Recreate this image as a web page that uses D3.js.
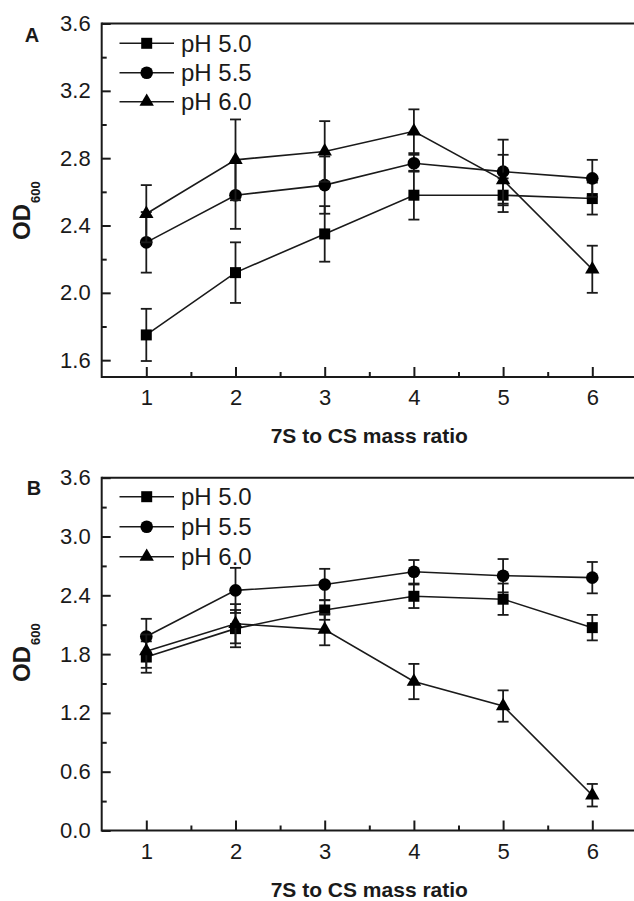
<!DOCTYPE html>
<html>
<head>
<meta charset="utf-8">
<script src="https://cdn.jsdelivr.net/npm/d3@7"></script>
<style>
  html, body { margin: 0; padding: 0; background: #fff; }
  svg { display: block; }
  text { font-family: "Liberation Sans", Arial, sans-serif; fill: #1a1a1a; }
</style>
</head>
<body>
<svg id="chart" width="634" height="901"></svg>
<script>
// ---------- data ----------
const ratios = [1, 2, 3, 4, 5, 6];
const seriesNames = ["pH 5.0", "pH 5.5", "pH 6.0"];
const seriesSymbols = ["square", "circle", "triangle"];

// Panel A
const aPH50 = [1.75, 2.12, 2.35, 2.58, 2.58, 2.56];
const aPH50Err = [0.155, 0.18, 0.165, 0.145, 0.10, 0.095];
const aPH55 = [2.30, 2.58, 2.64, 2.77, 2.72, 2.68];
const aPH55Err = [0.18, 0.20, 0.17, 0.05, 0.19, 0.11];
const aPH60 = [2.47, 2.79, 2.84, 2.96, 2.67, 2.14];
const aPH60Err = [0.17, 0.24, 0.18, 0.13, 0.15, 0.14];

// Panel B
const bPH50 = [1.77, 2.06, 2.25, 2.39, 2.36, 2.07];
const bPH50Err = [0.16, 0.19, 0.10, 0.12, 0.16, 0.13];
const bPH55 = [1.98, 2.45, 2.51, 2.64, 2.60, 2.58];
const bPH55Err = [0.18, 0.23, 0.16, 0.12, 0.17, 0.16];
const bPH60 = [1.83, 2.11, 2.05, 1.52, 1.27, 0.36];
const bPH60Err = [0.17, 0.20, 0.16, 0.18, 0.16, 0.115];

const aYTicks = [1.6, 2.0, 2.4, 2.8, 3.2, 3.6];
const aYMinor = [1.8, 2.2, 2.6, 3.0, 3.4];
const bYTicks = [0.0, 0.6, 1.2, 1.8, 2.4, 3.0, 3.6];
const bYMinor = [0.3, 0.9, 1.5, 2.1, 2.7, 3.3];
const xMinor = [1.5, 2.5, 3.5, 4.5, 5.5];

const xTitle = "7S to CS mass ratio";

// ---------- drawing ----------
const svg = d3.select("#chart");
const INK = "#1a1a1a";
const W = 634;

const symbolFor = {
  square: d3.symbol().type(d3.symbolSquare).size(121),
  circle: d3.symbol().type(d3.symbolCircle).size(125),
  triangle: d3.symbol().type(d3.symbolTriangle).size(90)
};

function panel(cfg) {
  const g = svg.append("g");
  const left = 101.7, top = cfg.top, bottom = cfg.bottom;
  const x = d3.scaleLinear().domain([0.5, 6.5]).range([left, left + 6 * 89.2]);
  const y = d3.scaleLinear().domain(cfg.yDomain).range([bottom, top]);

  // frame: top line, left axis, bottom axis (open on the right)
  g.append("line").attr("x1", left).attr("x2", W).attr("y1", top).attr("y2", top)
    .attr("stroke", INK).attr("stroke-width", 2);
  g.append("line").attr("x1", left).attr("x2", W).attr("y1", bottom).attr("y2", bottom)
    .attr("stroke", INK).attr("stroke-width", 2);
  g.append("line").attr("x1", left).attr("x2", left).attr("y1", top - 1).attr("y2", bottom + 1)
    .attr("stroke", INK).attr("stroke-width", 2);

  // x axis major
  const xAx = g.append("g").attr("transform", `translate(0,${bottom})`)
    .call(d3.axisBottom(x).tickValues(ratios).tickSize(-10).tickFormat(d3.format("d")));
  xAx.select(".domain").remove();
  xAx.selectAll("line").attr("stroke", INK).attr("stroke-width", 2);
  xAx.selectAll("text").attr("dy", null).attr("y", 28)
    .style("font-size", "22px").style("font-family", "'Liberation Sans', Arial, sans-serif").attr("fill", INK);
  // x axis minor
  const xAxm = g.append("g").attr("transform", `translate(0,${bottom})`)
    .call(d3.axisBottom(x).tickValues(xMinor).tickSize(-5).tickFormat(""));
  xAxm.select(".domain").remove();
  xAxm.selectAll("line").attr("stroke", INK).attr("stroke-width", 2);

  // y axis major
  const yAx = g.append("g").attr("transform", `translate(${left},0)`)
    .call(d3.axisLeft(y).tickValues(cfg.yTicks).tickSize(-9).tickPadding(11).tickFormat(d3.format(".1f")));
  yAx.select(".domain").remove();
  yAx.selectAll("line").attr("stroke", INK).attr("stroke-width", 2);
  yAx.selectAll("text").style("font-size", "22px")
    .style("font-family", "'Liberation Sans', Arial, sans-serif").attr("fill", INK);
  const yAxm = g.append("g").attr("transform", `translate(${left},0)`)
    .call(d3.axisLeft(y).tickValues(cfg.yMinor).tickSize(-5).tickFormat(""));
  yAxm.select(".domain").remove();
  yAxm.selectAll("line").attr("stroke", INK).attr("stroke-width", 2);

  // series
  cfg.series.forEach((s, si) => {
    const pts = ratios.map((r, i) => ({ x: r, v: s.values[i], e: s.err[i] }));
    g.append("path")
      .attr("d", d3.line().x(d => x(d.x)).y(d => y(d.v))(pts))
      .attr("fill", "none").attr("stroke", INK).attr("stroke-width", 1.6);
    const eb = g.append("g");
    pts.forEach(d => {
      const cx = x(d.x), y1 = y(d.v + d.e), y2 = y(d.v - d.e);
      eb.append("line").attr("x1", cx).attr("x2", cx).attr("y1", y1).attr("y2", y2)
        .attr("stroke", INK).attr("stroke-width", 1.8);
      [y1, y2].forEach(yy => eb.append("line")
        .attr("x1", cx - 5.5).attr("x2", cx + 5.5).attr("y1", yy).attr("y2", yy)
        .attr("stroke", INK).attr("stroke-width", 1.8));
    });
    g.selectAll(null).data(pts).join("path")
      .attr("d", symbolFor[seriesSymbols[si]]())
      .attr("transform", d => `translate(${x(d.x)},${y(d.v)})`)
      .attr("fill", "#000");
  });

  // legend
  cfg.legendRows.forEach((ry, i) => {
    g.append("line").attr("x1", 119.5).attr("x2", 174).attr("y1", ry).attr("y2", ry)
      .attr("stroke", INK).attr("stroke-width", 1.6);
    g.append("path").attr("d", symbolFor[seriesSymbols[i]]())
      .attr("transform", `translate(146.7,${ry})`).attr("fill", "#000");
    g.append("text").attr("x", 181).attr("y", ry + 8.5)
      .style("font-size", "24px").text(seriesNames[i]);
  });

  // panel letter
  g.append("text").attr("x", cfg.letterX).attr("y", cfg.letterY)
    .attr("text-anchor", "middle").style("font-size", "20px").style("font-weight", "bold")
    .text(cfg.letter);

  // y title OD600
  const yt = g.append("text")
    .attr("transform", `translate(29.5,${cfg.yTitleEnd}) rotate(-90)`)
    .style("font-size", "24px").style("font-weight", "bold");
  yt.append("tspan").text("OD");
  yt.append("tspan").attr("dy", 10).attr("dx", 1).style("font-size", "13px").text("600");

  // x title
  g.append("text").attr("x", (x(1) + x(6)) / 2).attr("y", bottom + 66)
    .attr("text-anchor", "middle").style("font-size", "21px").style("font-weight", "bold")
    .text(xTitle);
}

panel({
  top: 23.5, bottom: 377, yDomain: [1.5, 3.6], yTicks: aYTicks, yMinor: aYMinor,
  series: [
    { values: aPH50, err: aPH50Err },
    { values: aPH55, err: aPH55Err },
    { values: aPH60, err: aPH60Err }
  ],
  legendRows: [43.3, 72.7, 101.7],
  letter: "A", letterX: 32, letterY: 42, yTitleEnd: 240
});

panel({
  top: 477.7, bottom: 830.5, yDomain: [0, 3.6], yTicks: bYTicks, yMinor: bYMinor,
  series: [
    { values: bPH50, err: bPH50Err },
    { values: bPH55, err: bPH55Err },
    { values: bPH60, err: bPH60Err }
  ],
  legendRows: [496.7, 526.7, 556.7],
  letter: "B", letterX: 34, letterY: 495, yTitleEnd: 682
});
</script>
</body>
</html>
